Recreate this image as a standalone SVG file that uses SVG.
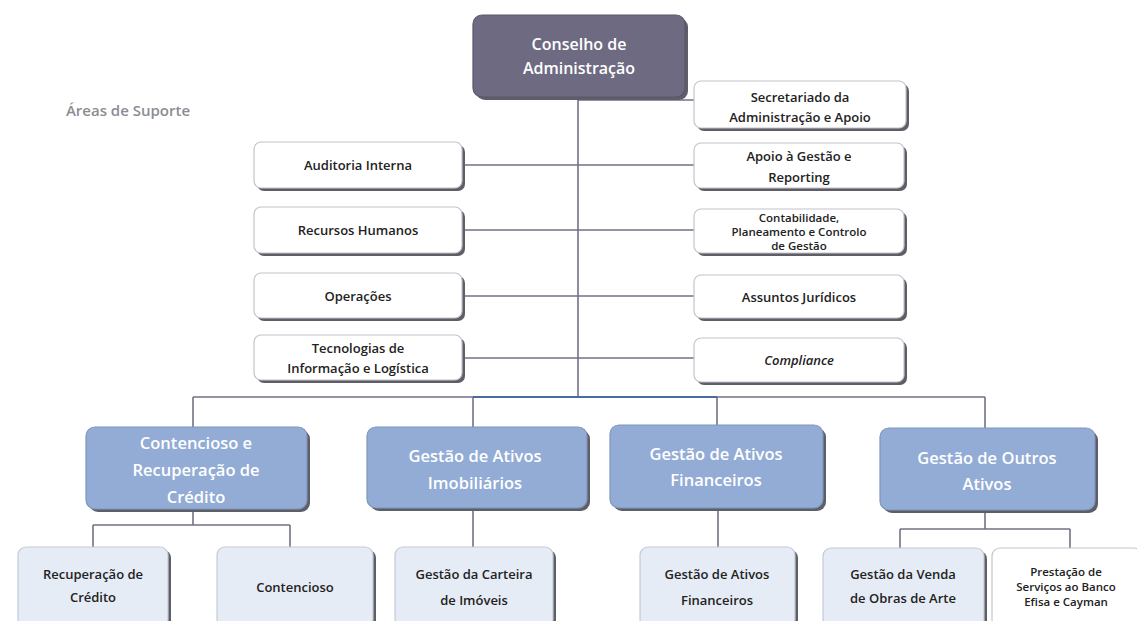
<svg xmlns="http://www.w3.org/2000/svg" width="1137" height="621" viewBox="0 0 1137 621">
<style>
text{font-family:"Open Sans","Liberation Sans",sans-serif;text-anchor:middle;dominant-baseline:central}
.sh{fill:#5e5e66}
.w{fill:#ffffff;stroke:#c4c4cc;stroke-width:1.2}
.lb{fill:#e6ecf5;stroke:#c4cad6;stroke-width:1.2}
.bl{fill:#93acd6;stroke:#7e95bd;stroke-width:1.2}
.cn{fill:#6e6a82;stroke:#5a566c;stroke-width:1.2}
.t{font-size:13px;font-weight:600;fill:#222}
.ts{font-size:11.5px;font-weight:600;fill:#222}
.tw{font-size:16.5px;font-weight:600;fill:#ffffff}
.c{fill:none;stroke:#727284;stroke-width:1.6}
.cb{fill:none;stroke:#4a6aa0;stroke-width:1.8}
</style>
<rect width="1137" height="621" fill="#ffffff"/>
<text x="128" y="110" style="font-size:15px;font-weight:600;fill:#8c8c94">Áreas de Suporte</text>
<g id="connectors">
<path class="c" d="M578 97V397M578 100H694M462 165H694M462 230H694M462 296H694M462 358H694"/>
<path class="c" d="M193 397H473M717 397H985M193 397V427M473 397V427M717 397V425M985 397V428"/>
<path class="cb" d="M473 397H717"/>
<path class="c" d="M193 509V525M93 525H290M93 525V547M290 525V547"/>
<path class="c" d="M473 508V547M718 508V547"/>
<path class="c" d="M985 510V529M900 529H1070M900 529V548M1070 529V548"/>
</g>
<g id="conselho"><rect class="sh" x="476" y="18" width="212" height="82" rx="9"/><rect class="cn" x="473" y="15" width="212" height="82" rx="9"/><text class="tw" x="579" y="44" style="font-size:16px">Conselho de</text><text class="tw" x="579" y="68" style="font-size:16px">Administração</text></g>
<g id="secretariado"><rect class="sh" x="697" y="84" width="212" height="47" rx="7"/><rect class="w" x="694" y="81" width="212" height="47" rx="7"/><text class="t" x="800" y="97">Secretariado  da</text><text class="t" x="800" y="117">Administração e Apoio</text></g>
<g id="auditoria"><rect class="sh" x="257" y="145" width="208" height="46" rx="7"/><rect class="w" x="254" y="142" width="208" height="46" rx="7"/><text class="t" x="358" y="165">Auditoria Interna</text></g>
<g id="rh"><rect class="sh" x="257" y="210" width="208" height="46" rx="7"/><rect class="w" x="254" y="207" width="208" height="46" rx="7"/><text class="t" x="358" y="230">Recursos Humanos</text></g>
<g id="operacoes"><rect class="sh" x="257" y="276" width="208" height="45" rx="7"/><rect class="w" x="254" y="273" width="208" height="45" rx="7"/><text class="t" x="358" y="296">Operações</text></g>
<g id="tecnologias"><rect class="sh" x="257" y="338" width="208" height="45" rx="7"/><rect class="w" x="254" y="335" width="208" height="45" rx="7"/><text class="t" x="358" y="348">Tecnologias de</text><text class="t" x="358" y="368">Informação e Logística</text></g>
<g id="apoio"><rect class="sh" x="697" y="146" width="210" height="45" rx="7"/><rect class="w" x="694" y="143" width="210" height="45" rx="7"/><text class="t" x="799" y="156">Apoio à Gestão e</text><text class="t" x="799" y="177">Reporting</text></g>
<g id="contabilidade"><rect class="sh" x="697" y="212" width="210" height="44" rx="7"/><rect class="w" x="694" y="209" width="210" height="44" rx="7"/><text class="ts" x="799" y="217">Contabilidade,</text><text class="ts" x="799" y="231">Planeamento e Controlo</text><text class="ts" x="799" y="245">de Gestão</text></g>
<g id="juridicos"><rect class="sh" x="697" y="278" width="210" height="43" rx="7"/><rect class="w" x="694" y="275" width="210" height="43" rx="7"/><text class="t" x="799" y="297">Assuntos Jurídicos</text></g>
<g id="compliance"><rect class="sh" x="697" y="341" width="210" height="44" rx="7"/><rect class="w" x="694" y="338" width="210" height="44" rx="7"/><text class="t" x="799" y="360" font-style="italic">Compliance</text></g>
<g id="contencioso-rec"><rect class="sh" x="89" y="430" width="221" height="82" rx="9"/><rect class="bl" x="86" y="427" width="221" height="82" rx="9"/><text class="tw" x="196" y="442">Contencioso e</text><text class="tw" x="196" y="469">Recuperação de</text><text class="tw" x="196" y="496">Crédito</text></g>
<g id="imobiliarios"><rect class="sh" x="370" y="430" width="220" height="81" rx="9"/><rect class="bl" x="367" y="427" width="220" height="81" rx="9"/><text class="tw" x="475" y="455">Gestão de Ativos</text><text class="tw" x="475" y="482">Imobiliários</text></g>
<g id="financeiros"><rect class="sh" x="613" y="428" width="213" height="83" rx="9"/><rect class="bl" x="610" y="425" width="213" height="83" rx="9"/><text class="tw" x="716" y="453">Gestão de Ativos</text><text class="tw" x="716" y="479">Financeiros</text></g>
<g id="outros"><rect class="sh" x="883" y="431" width="215" height="82" rx="9"/><rect class="bl" x="880" y="428" width="215" height="82" rx="9"/><text class="tw" x="987" y="457">Gestão de Outros</text><text class="tw" x="987" y="483">Ativos</text></g>
<g id="recuperacao"><rect class="sh" x="21" y="550" width="150" height="80" rx="8"/><rect class="lb" x="18" y="547" width="150" height="80" rx="8"/><text class="t" x="93" y="574">Recuperação de</text><text class="t" x="93" y="597">Crédito</text></g>
<g id="contencioso"><rect class="sh" x="220" y="550" width="156" height="80" rx="8"/><rect class="lb" x="217" y="547" width="156" height="80" rx="8"/><text class="t" x="295" y="587">Contencioso</text></g>
<g id="carteira"><rect class="sh" x="398" y="550" width="158" height="80" rx="8"/><rect class="lb" x="395" y="547" width="158" height="80" rx="8"/><text class="t" x="474" y="574">Gestão da Carteira</text><text class="t" x="474" y="600">de Imóveis</text></g>
<g id="ativos-fin"><rect class="sh" x="643" y="550" width="155" height="80" rx="8"/><rect class="lb" x="640" y="547" width="155" height="80" rx="8"/><text class="t" x="717" y="574">Gestão de Ativos</text><text class="t" x="717" y="600">Financeiros</text></g>
<g id="venda"><rect class="sh" x="826" y="551" width="161" height="80" rx="8"/><rect class="lb" x="823" y="548" width="161" height="80" rx="8"/><text class="t" x="903" y="574">Gestão da Venda</text><text class="t" x="903" y="598">de Obras de Arte</text></g>
<g id="prestacao"><rect class="sh" x="995" y="551" width="150" height="80" rx="8"/><rect class="w" x="992" y="548" width="150" height="80" rx="8"/><text class="ts" x="1066" y="571">Prestação de</text><text class="ts" x="1066" y="586">Serviços ao Banco</text><text class="ts" x="1066" y="601">Efisa e Cayman</text></g>
</svg>
